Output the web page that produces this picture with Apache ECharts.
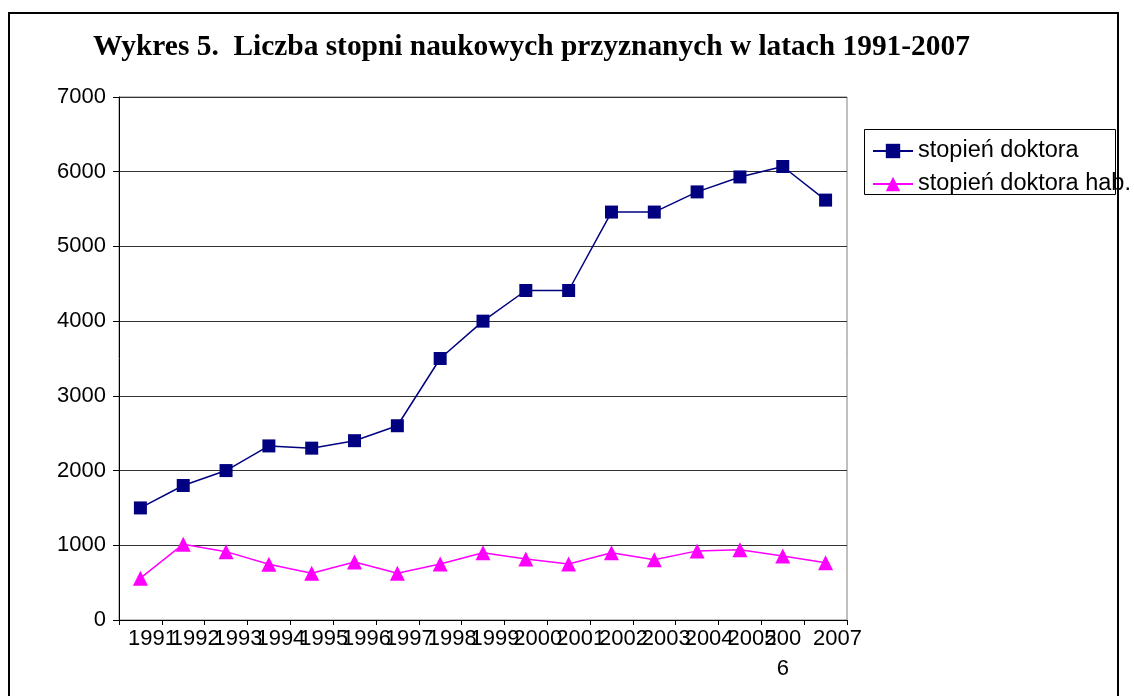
<!DOCTYPE html>
<html>
<head>
<meta charset="utf-8">
<script src="https://cdn.jsdelivr.net/npm/echarts@6/dist/echarts.min.js"></script>
<style>
  html, body { margin: 0; padding: 0; background: #fff; }
  #chart { width: 1134px; height: 696px; }
</style>
</head>
<body>
<div id="chart"></div>
<script>
// lata 1991-2007
const years = ['1991', '1992', '1993', '1994', '1995', '1996', '1997', '1998', '1999',
  '2000', '2001', '2002', '2003', '2004', '2005', '2006', '2007']
// stopień doktora
const doktor = [1500, 1800, 2000, 2330, 2300, 2400, 2600, 3500, 4000,
  4410, 4410, 5460, 5460, 5730, 5930, 6070, 5620]
// stopień doktora hab.
const doktorHab = [560, 1015, 915, 745, 625, 775, 625, 750, 900,
  815, 750, 900, 805, 925, 940, 857, 767]
const yTicks = [0, 1000, 2000, 3000, 4000, 5000, 6000, 7000]

const chart = echarts.init(document.getElementById('chart'))

const font = 'Liberation Sans, Arial, sans-serif'

chart.setOption({
  animation: false,
  backgroundColor: '#fff',
  title: {
    text: 'Wykres 5.  Liczba stopni naukowych przyznanych w latach 1991-2007',
    left: 93,
    top: 33,
    padding: 0,
    textStyle: {
      fontFamily: 'Liberation Serif, Times New Roman, serif',
      fontWeight: 'bold',
      fontSize: 29.4,
      color: '#000'
    }
  },
  graphic: [
    {
      type: 'rect',
      shape: { x: 9, y: 13, width: 1109, height: 700 },
      style: { fill: 'none', stroke: '#000', lineWidth: 2 },
      silent: true
    },
    {
      type: 'rect',
      shape: { x: 864.5, y: 129.5, width: 251, height: 65 },
      style: { fill: 'none', stroke: '#000', lineWidth: 1 },
      silent: true
    }
  ],
  legend: {
    orient: 'vertical',
    left: 872,
    top: 139,
    padding: 0,
    itemWidth: 40,
    itemHeight: 18,
    itemGap: 9,
    textStyle: { fontFamily: font, fontSize: 23.5, color: '#000', lineHeight: 23 },
    data: ['stopień doktora', 'stopień doktora hab.']
  },
  grid: {
    left: 119,
    right: 287,
    top: 97,
    bottom: 76,
    show: true,
    borderColor: '#808080',
    borderWidth: 1
  },
  xAxis: {
    type: 'category',
    data: years,
    boundaryGap: true,
    axisLine: { lineStyle: { color: '#000', width: 1 } },
    axisTick: { show: true, length: 5, interval: 0, lineStyle: { color: '#000' } },
    axisLabel: {
      interval: 0,
      margin: 4,
      color: '#000',
      fontFamily: font,
      fontSize: 22,
      formatter: v => v === '2006' ? '{w|200}\n{w|6}' : '{n|' + v + '}',
      rich: {
        n: { fontFamily: font, fontSize: 22, lineHeight: 30, padding: [0, 0, 0, 24], color: '#000' },
        w: { fontFamily: font, fontSize: 22, lineHeight: 30, color: '#000' }
      }
    },
    splitLine: { show: false }
  },
  yAxis: {
    type: 'value',
    min: yTicks[0],
    max: yTicks[yTicks.length - 1],
    interval: 1000,
    axisLine: { show: true, lineStyle: { color: '#000', width: 1 } },
    axisTick: { show: true, length: 6, lineStyle: { color: '#000' } },
    axisLabel: {
      margin: 13,
      color: '#000',
      fontFamily: font,
      fontSize: 22,
      formatter: v => String(v)
    },
    splitLine: { show: true, lineStyle: { color: '#333', width: 1 } }
  },
  series: [
    {
      name: 'stopień doktora',
      type: 'line',
      data: doktor,
      symbol: 'rect',
      symbolSize: 13,
      lineStyle: { color: '#000080', width: 1.5 },
      itemStyle: { color: '#000080' }
    },
    {
      name: 'stopień doktora hab.',
      type: 'line',
      data: doktorHab,
      symbol: 'triangle',
      symbolSize: 15,
      lineStyle: { color: '#ff00ff', width: 1.5 },
      itemStyle: { color: '#ff00ff' }
    }
  ]
})
</script>
</body>
</html>
